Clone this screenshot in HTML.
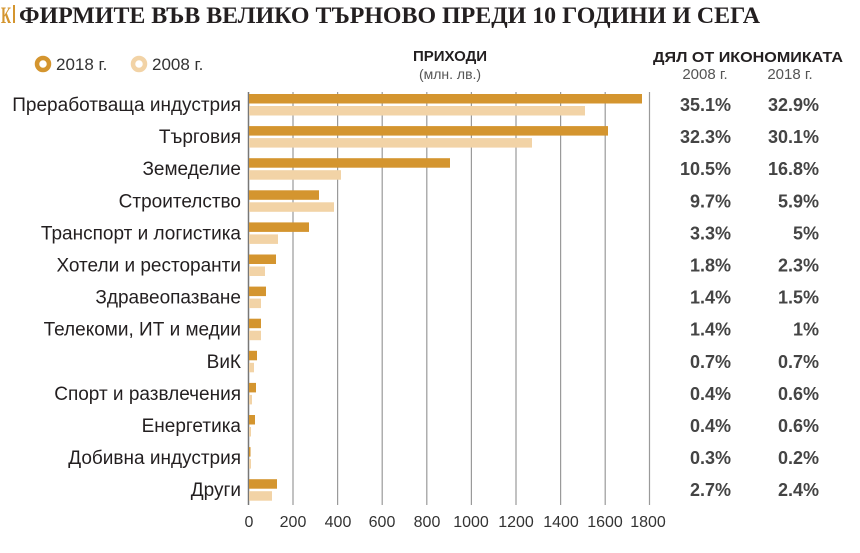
<!DOCTYPE html>
<html><head><meta charset="utf-8"><style>
html,body{margin:0;padding:0;background:#fff;}
svg{display:block;font-family:"Liberation Sans","DejaVu Sans",sans-serif;}
</style></head><body>
<svg width="860" height="553" viewBox="0 0 860 553" xmlns="http://www.w3.org/2000/svg">
<rect width="860" height="553" fill="#fff"/>
<text x="1" y="23" font-family="Liberation Serif,serif" font-weight="bold" font-size="23" fill="#d4952f" textLength="10" lengthAdjust="spacingAndGlyphs">К</text>
<rect x="13" y="5" width="2" height="18" fill="#d4952f"/>
<text x="19" y="23" font-family="Liberation Serif,serif" font-weight="bold" font-size="23" fill="#231f20" textLength="741" lengthAdjust="spacingAndGlyphs">ФИРМИТЕ ВЪВ ВЕЛИКО ТЪРНОВО ПРЕДИ 10 ГОДИНИ И СЕГА</text>
<circle cx="43" cy="64" r="6" fill="none" stroke="#d4952f" stroke-width="4.5"/>
<text x="56" y="70" font-size="17" fill="#333">2018 г.</text>
<circle cx="139" cy="64" r="6" fill="none" stroke="#f2d3a6" stroke-width="4.5"/>
<text x="152" y="70" font-size="17" fill="#333">2008 г.</text>
<text x="450" y="61" text-anchor="middle" font-size="15" font-weight="bold" fill="#231f20">ПРИХОДИ</text>
<text x="450" y="79" text-anchor="middle" font-size="14" fill="#555">(млн. лв.)</text>
<text x="653" y="62" font-size="15" font-weight="bold" fill="#231f20" textLength="190" lengthAdjust="spacingAndGlyphs">ДЯЛ ОТ ИКОНОМИКАТА</text>
<text x="705" y="79" text-anchor="middle" font-size="15" fill="#555">2008 г.</text>
<text x="790" y="79" text-anchor="middle" font-size="15" fill="#555">2018 г.</text>
<g stroke="#9a9a9a" stroke-width="1.2">
<line x1="293" y1="92" x2="293" y2="505"/><line x1="337.6" y1="92" x2="337.6" y2="505"/><line x1="382.2" y1="92" x2="382.2" y2="505"/><line x1="426.8" y1="92" x2="426.8" y2="505"/><line x1="471.4" y1="92" x2="471.4" y2="505"/><line x1="516" y1="92" x2="516" y2="505"/><line x1="560.6" y1="92" x2="560.6" y2="505"/><line x1="605.2" y1="92" x2="605.2" y2="505"/><line x1="649.5" y1="92" x2="649.5" y2="505"/>
</g>
<line x1="248.5" y1="92" x2="248.5" y2="505" stroke="#777" stroke-width="1.5"/>
<g font-size="16" fill="#333" text-anchor="middle">
<text x="249" y="527">0</text><text x="293" y="527">200</text><text x="338" y="527">400</text><text x="382" y="527">600</text><text x="427" y="527">800</text><text x="471" y="527">1000</text><text x="516" y="527">1200</text><text x="561" y="527">1400</text><text x="605" y="527">1600</text><text x="648" y="527">1800</text>
</g>
<g fill="#d4952f">
<rect x="249" y="94" width="393" height="9.5"/>
<rect x="249" y="126.1" width="359" height="9.5"/>
<rect x="249" y="158.2" width="201" height="9.5"/>
<rect x="249" y="190.3" width="70" height="9.5"/>
<rect x="249" y="222.4" width="60" height="9.5"/>
<rect x="249" y="254.5" width="27" height="9.5"/>
<rect x="249" y="286.6" width="17" height="9.5"/>
<rect x="249" y="318.7" width="12" height="9.5"/>
<rect x="249" y="350.8" width="8" height="9.5"/>
<rect x="249" y="382.9" width="7" height="9.5"/>
<rect x="249" y="415" width="6" height="9.5"/>
<rect x="249" y="447.1" width="1.5" height="9.5"/>
<rect x="249" y="479.2" width="28" height="9.5"/>
</g>
<g fill="#f2d3a6">
<rect x="249" y="106" width="336" height="9.5"/>
<rect x="249" y="138.1" width="283" height="9.5"/>
<rect x="249" y="170.2" width="92" height="9.5"/>
<rect x="249" y="202.3" width="85" height="9.5"/>
<rect x="249" y="234.4" width="29" height="9.5"/>
<rect x="249" y="266.5" width="16" height="9.5"/>
<rect x="249" y="298.6" width="12" height="9.5"/>
<rect x="249" y="330.7" width="12" height="9.5"/>
<rect x="249" y="362.8" width="5" height="9.5"/>
<rect x="249" y="394.9" width="3" height="9.5"/>
<rect x="249" y="427" width="2" height="9.5"/>
<rect x="249" y="459.1" width="2" height="9.5"/>
<rect x="249" y="491.2" width="23" height="9.5"/>
</g>
<g font-size="19" fill="#231f20" text-anchor="end">
<text x="241" y="111">Преработваща индустрия</text>
<text x="241" y="143.1">Търговия</text>
<text x="241" y="175.2">Земеделие</text>
<text x="241" y="207.3">Строителство</text>
<text x="241" y="239.4">Транспорт и логистика</text>
<text x="241" y="271.5">Хотели и ресторанти</text>
<text x="241" y="303.6">Здравеопазване</text>
<text x="241" y="335.7">Телекоми, ИТ и медии</text>
<text x="241" y="367.8">ВиК</text>
<text x="241" y="399.9">Спорт и развлечения</text>
<text x="241" y="432">Енергетика</text>
<text x="241" y="464.1">Добивна индустрия</text>
<text x="241" y="496.2">Други</text>
</g>
<g font-size="18" font-weight="bold" fill="#444" text-anchor="end">
<text x="731" y="111">35.1%</text><text x="819" y="111">32.9%</text>
<text x="731" y="143.1">32.3%</text><text x="819" y="143.1">30.1%</text>
<text x="731" y="175.2">10.5%</text><text x="819" y="175.2">16.8%</text>
<text x="731" y="207.3">9.7%</text><text x="819" y="207.3">5.9%</text>
<text x="731" y="239.4">3.3%</text><text x="819" y="239.4">5%</text>
<text x="731" y="271.5">1.8%</text><text x="819" y="271.5">2.3%</text>
<text x="731" y="303.6">1.4%</text><text x="819" y="303.6">1.5%</text>
<text x="731" y="335.7">1.4%</text><text x="819" y="335.7">1%</text>
<text x="731" y="367.8">0.7%</text><text x="819" y="367.8">0.7%</text>
<text x="731" y="399.9">0.4%</text><text x="819" y="399.9">0.6%</text>
<text x="731" y="432">0.4%</text><text x="819" y="432">0.6%</text>
<text x="731" y="464.1">0.3%</text><text x="819" y="464.1">0.2%</text>
<text x="731" y="496.2">2.7%</text><text x="819" y="496.2">2.4%</text>
</g>
</svg>
</body></html>
